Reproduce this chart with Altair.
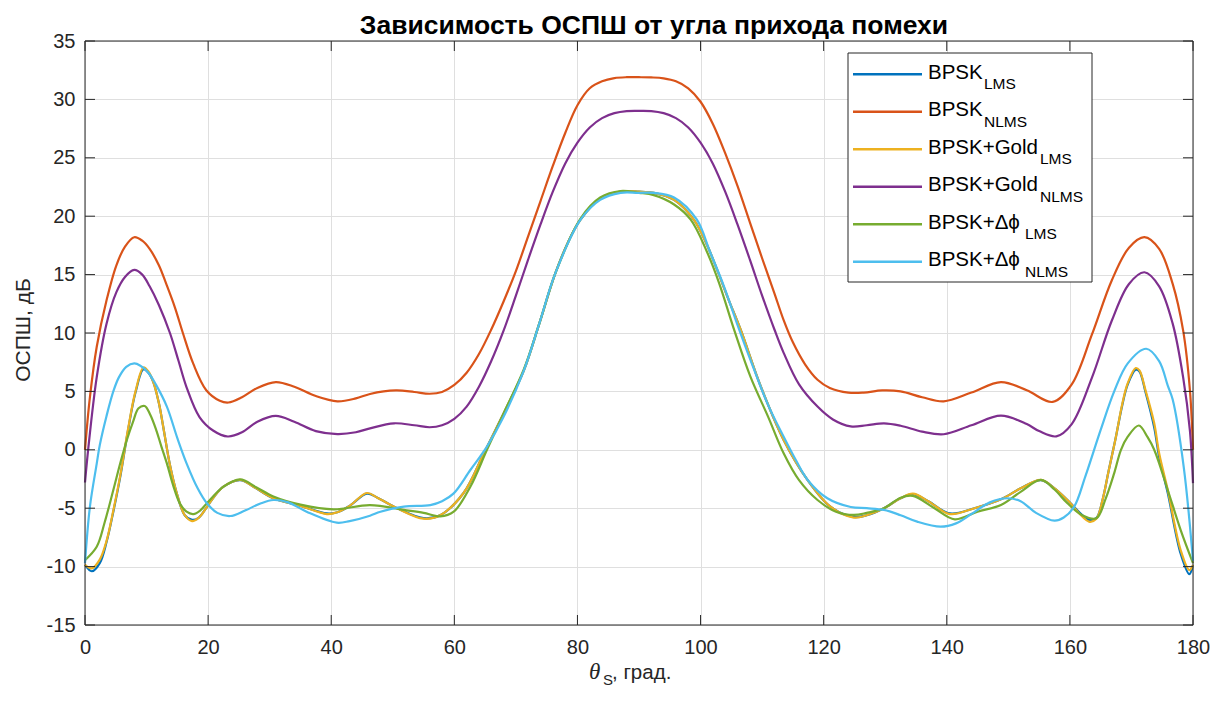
import altair as alt
import pandas as pd

FONT = "Liberation Sans"
W, H = 1108, 584

# ---------------- data ----------------
x_tick_values = list(range(0, 181, 20))
y_tick_values = list(range(-15, 36, 5))

theta_bpsk_nlms = [0, 0.8, 1.9, 3.5, 5.1, 6.5, 8, 9.3, 10.5, 12, 13.2, 14.6, 15.9, 17.6, 19.7, 21.9, 23.3, 25.5, 28, 31,
                   34, 37.5, 41, 44, 46.3, 50.5, 53.5, 56, 58, 60, 62, 64, 66, 68, 70, 72, 74, 76, 78, 80,
                   82, 84, 86, 88, 90, 92, 94, 96, 98, 100, 102, 104, 106, 108, 110, 112, 113.5, 115, 117, 119,
                   121, 124, 126.5, 129.5, 132.5, 136, 139.5, 144, 148.8, 153, 157.2, 160.3, 163.6, 166.8, 169.6,
                   172.1, 174.5, 176.7, 178.4, 179.5, 180]
snr_bpsk_nlms = [0, 4.5, 8.8, 12.8, 15.8, 17.4, 18.2, 17.9, 17.2, 15.8, 14.2, 12.2, 10.0, 7.35, 5.1, 4.2, 4.05, 4.5, 5.3, 5.8,
                 5.4, 4.6, 4.15, 4.4, 4.78, 5.08, 4.95, 4.8, 4.95, 5.55, 6.6, 8.2, 10.3, 12.7, 15.3, 18.3, 21.3, 24.3, 27.1, 29.5,
                 30.95, 31.55, 31.82, 31.9, 31.9, 31.88, 31.8, 31.55, 30.95, 29.8, 27.9, 25.4, 22.6, 19.5, 16.4, 13.4, 11.1, 9.2, 7.3, 6.0,
                 5.3, 4.9, 4.9, 5.08, 5.0, 4.5, 4.15, 4.9, 5.8, 5.1, 4.1, 5.6, 9.9, 14.5, 17.3,
                 18.2, 17.2, 14.2, 10.2, 5.1, 0]

theta_gold_nlms = [0, 0.55, 1.9, 3.5, 5.1, 6.5, 8, 9.3, 10.5, 12, 13.8, 15.2, 16.5, 18.6, 20.8, 23.2, 25.5, 28, 31, 34,
                   37.5, 41, 44, 46.3, 50.2, 53.5, 56, 58, 60, 62, 64, 66, 68, 70, 72, 74, 76, 78, 80, 82,
                   84, 86, 88, 90, 92, 94, 96, 98, 100, 102, 104, 106, 108, 110, 112, 113.5, 116, 119, 121.5, 124.4,
                   127, 129.8, 132.5, 136, 139.5, 144, 148.8, 153, 155, 157.8, 160.3, 163.6, 166.8, 169.6, 172.1,
                   174.5, 176.7, 178.4, 179.5, 180]
snr_gold_nlms = [-2.8, 0.2, 6.2, 10.8, 13.5, 14.8, 15.4, 15.0, 14.0, 12.4, 10.0, 7.6, 5.35, 2.8, 1.65, 1.14, 1.5, 2.4, 2.9, 2.4,
                 1.6, 1.35, 1.5, 1.84, 2.27, 2.1, 1.93, 2.1, 2.65, 3.7, 5.4, 7.6, 10.2, 13.2, 16.3, 19.3, 22.1, 24.5, 26.3, 27.6,
                 28.4, 28.82, 29.0, 29.02, 29.0, 28.82, 28.4, 27.6, 26.3, 24.5, 22.1, 19.3, 16.3, 13.2, 10.3, 8.3, 5.6, 3.7, 2.6, 2.0,
                 2.1, 2.27, 2.06, 1.55, 1.33, 2.1, 2.92, 2.2, 1.6, 1.15, 2.2, 6.2, 11.05, 14.2, 15.2,
                 14.0, 10.8, 6.2, 1.65, -2.85]

theta_gold_lms = [0, 1.1, 2.4, 3.5, 4.6, 5.8, 7.0, 8.2, 9.5, 10.3, 11.1, 12.0, 12.7, 13.8, 14.9, 16.2, 17.4, 18.5, 19.8, 21,
                  22.5, 25.2, 27.5, 30.6, 35, 39.3, 41, 43, 45.8, 47.5, 50.7, 55, 57.7, 61.5, 64.8, 68, 71.3, 73.8, 76.4, 78.5,
                  80.5, 83.7, 87, 90, 92.4, 95.7, 98.9, 101, 102.7, 104.6, 106.5, 109.8, 113.5, 117.4, 121.1, 124.9, 127, 129.8,
                  132.5, 134.5, 137, 140.5, 144.5, 148.8, 152, 155.3, 157.5, 159.6, 163.1, 164.3, 165.3, 166.3, 167.4, 168.5,
                  169.4, 170.7, 171.3, 172.3, 173.7, 174.5, 175.9, 178, 179.4, 180]
snr_gold_lms = [-9.86, -10.15, -9.4, -7.8, -5.2, -2.0, 1.8, 5.0, 7.05, 6.7, 5.8, 4.0, 2.0, -1.3, -3.7, -5.6, -6.1, -5.8, -4.9, -4.0,
                -3.16, -2.58, -3.2, -4.15, -4.8, -5.5, -5.35, -4.8, -3.7, -4.1, -5.0, -5.9, -5.6, -3.7, -0.3, 3.1, 6.8, 10.8, 15.1, 17.8,
                19.7, 21.5, 22.1, 22.1, 22.0, 21.4, 19.7, 17.6, 15.4, 12.8, 10.3, 5.4, 0.84, -2.6, -4.87, -5.8, -5.6, -5.0,
                -4.15, -3.75, -4.4, -5.5, -5.0, -4.24, -3.3, -2.58, -3.3, -4.3, -6.15, -5.9, -4.3, -1.8, 0.9, 3.9,
                5.7, 7.0, 6.8, 5.07, 2.27, -0.3, -3.44, -8.6, -10.3, -9.86]

theta_bpsk_lms = [0, 1.1, 2.4, 3.5, 4.6, 5.8, 7.0, 8.2, 9.5, 10.3, 11.1, 12.0, 12.7, 13.8, 14.9, 16.2, 17.4, 18.5, 19.8, 21,
                  22.5, 25.2, 27.5, 30.6, 35, 39.3, 41, 43, 45.8, 47.5, 50.7, 55, 57.7, 61.5, 64.8, 68, 71.3, 73.8, 76.4, 78.5,
                  80.5, 83.7, 87, 90, 92.4, 95.7, 98.9, 101, 102.7, 104.6, 106.5, 109.8, 113.5, 117.4, 121.1, 124.9, 127, 129.8,
                  132.5, 134.5, 137, 140.5, 144.5, 148.8, 152, 155.3, 157.5, 159.6, 163.1, 164.3, 165.3, 166.3, 167.4, 168.5,
                  169.4, 170.7, 171.3, 172.3, 173.7, 174.5, 175.9, 178, 179.4, 180]
snr_bpsk_lms = [-9.86, -10.4, -9.7, -7.9, -5.3, -2.1, 1.7, 4.9, 6.9, 6.6, 5.8, 4.0, 2.0, -1.3, -3.7, -5.6, -6.0, -5.8, -4.9, -4.0,
                -3.16, -2.6, -3.2, -4.15, -4.8, -5.45, -5.35, -4.8, -3.75, -4.1, -5.0, -5.85, -5.6, -3.7, -0.3, 3.1, 6.8, 10.8, 15.1, 17.8,
                19.7, 21.5, 22.1, 22.1, 22.0, 21.4, 19.7, 17.6, 15.4, 12.8, 10.3, 5.4, 0.84, -2.6, -4.87, -5.75, -5.6, -5.0,
                -4.15, -3.8, -4.4, -5.45, -5.0, -4.24, -3.3, -2.6, -3.3, -4.3, -6.0, -5.85, -4.3, -1.8, 0.9, 3.8,
                5.6, 6.85, 6.7, 4.9, 1.9, -0.6, -3.7, -8.9, -10.65, -9.86]

theta_dphi_lms = [0, 1.9, 3.2, 4.6, 5.8, 6.8, 7.8, 8.7, 9.7, 10.6, 11.6, 12.4, 13.3, 14.3, 15.4, 16.5, 17.6, 18.7, 19.8, 22.5,
                  25.2, 27.8, 30.6, 35, 40.4, 46.3, 51.8, 55, 57.7, 59.9, 62.6, 65.3, 68, 71.3, 73.8, 76.4, 80.5, 83.7, 87, 90,
                  92.4, 95.7, 98.4, 101, 103, 105.5, 108.1, 111, 113.5, 116, 119, 122, 124.9, 127, 129.8, 132.5, 134.5, 138,
                  141.3, 145, 148.8, 152, 155.3, 157.5, 159.6, 162, 164.3, 165.8, 167.2, 168.3, 169.4, 171.2, 172.6, 173.7,
                  175.9, 178, 180]
snr_dphi_lms = [-9.45, -8.3, -6.2, -3.44, -1.0, 0.84, 2.4, 3.55, 3.75, 3.0, 1.65, 0.3, -1.16, -3.0, -4.58, -5.3, -5.5, -5.2, -4.58, -3.16,
                -2.53, -3.2, -4.0, -4.7, -5.1, -4.73, -5.15, -5.4, -5.7, -5.3, -3.16, 0.0, 3.1, 6.9, 10.8, 15.1, 19.8, 21.6, 22.15, 22.0,
                21.8, 21.0, 19.7, 17.0, 14.3, 10.2, 6.26, 2.8, -0.3, -2.6, -4.3, -5.3, -5.58, -5.4, -5.0, -4.1, -3.95, -5.0,
                -5.95, -5.3, -4.73, -3.6, -2.58, -3.4, -4.58, -5.6, -5.87, -4.2, -2.0, 0.0, 1.12, 2.08, 1.1, 0.0,
                -3.44, -6.87, -9.7]

theta_dphi_nlms = [0, 0.8, 1.9, 2.4, 3.5, 4.6, 5.5, 6.7, 8.0, 9.0, 10.3, 11.5, 13.3, 15.0, 16.5, 18.3, 19.8, 21.5, 23.6, 26,
                   28.5, 30.6, 33, 36, 40.9, 43, 46.3, 48, 51.8, 56.1, 58, 59.9, 62.6, 65.3, 68, 71.3, 73.8, 76.4, 80.5, 83.7,
                   87, 90, 92.4, 95.7, 99.4, 101.5, 103.8, 106, 108.1, 111, 113.5, 115.5, 117.4, 120.6, 124.4, 127, 129.8, 132.5,
                   135.2, 139, 141.5, 144, 147, 149.9, 152, 154.5, 157.5, 159, 160.7, 162.5, 165, 167.2, 169.4, 172.4, 174.5,
                   175.9, 176.7, 178.5, 180]
snr_dphi_nlms = [-9.7, -4.87, -1.2, 0.4, 2.9, 5.0, 6.2, 7.1, 7.4, 7.2, 6.6, 5.6, 3.7, 1.0, -1.16, -3.3, -4.58, -5.4, -5.67, -5.2,
                 -4.6, -4.3, -4.5, -5.3, -6.24, -6.1, -5.64, -5.3, -4.87, -4.73, -4.4, -3.73, -1.73, 0.27, 2.83, 6.8, 10.8, 15.1, 19.7, 21.4,
                 22.0, 22.0, 22.0, 21.6, 19.7, 17.0, 14.0, 10.7, 7.7, 3.8, 1.12, -0.9, -2.58, -4.15, -4.9, -5.0, -5.15, -5.6,
                 -6.15, -6.58, -6.3, -5.5, -4.5, -4.15, -4.4, -5.4, -6.07, -5.8, -4.87, -2.3, 1.7, 5.0, 7.4, 8.65, 7.6,
                 5.5, 4.3, -1.5, -9.5]

series_colors = ["#0072BD", "#D95319", "#EDB120", "#7E2F8E", "#77AC30", "#4DBEEE"]
legend_main = ["BPSK", "BPSK", "BPSK+Gold", "BPSK+Gold", "BPSK+Δϕ", "BPSK+Δϕ"]
legend_sub = ["LMS", "NLMS", "LMS", "NLMS", "LMS", "NLMS"]

title_text = "Зависимость ОСПШ от угла прихода помехи"
y_title_text = "ОСПШ, дБ"
x_title_text = ", град."

series = [
    (theta_bpsk_lms, snr_bpsk_lms),
    (theta_bpsk_nlms, snr_bpsk_nlms),
    (theta_gold_lms, snr_gold_lms),
    (theta_gold_nlms, snr_gold_nlms),
    (theta_dphi_lms, snr_dphi_lms),
    (theta_dphi_nlms, snr_dphi_nlms),
]

# ---------------- chart ----------------
x_scale = alt.Scale(domain=[0, 180], nice=False, zero=False)
y_scale = alt.Scale(domain=[-15, 35], nice=False, zero=False)

plain_label = "'' + datum.value"
x_axis = alt.Axis(values=x_tick_values, title=None, grid=True, gridColor="#dfdfdf", gridWidth=1,
                  domain=False, ticks=False, labelFont=FONT, labelFontSize=20, labelColor="#262626",
                  labelPadding=12, labelFlush=False, labelOverlap=False, labelBound=False,
                  labelExpr=plain_label)
y_axis = alt.Axis(values=y_tick_values, title=None, grid=True, gridColor="#dfdfdf", gridWidth=1,
                  domain=False, ticks=False, labelFont=FONT, labelFontSize=20, labelColor="#262626",
                  labelPadding=10, labelFlush=False, labelOverlap=False, labelBound=False,
                  labelExpr=plain_label)

dummy = pd.DataFrame({"k": [0]})
layers = []

for (th, val), col in zip(series, series_colors):
    df = pd.DataFrame({"theta": th, "snr": val})
    layers.append(
        alt.Chart(df).mark_line(color=col, strokeWidth=2.2, interpolate="catmull-rom").encode(
            x=alt.X("theta:Q", scale=x_scale, axis=x_axis),
            y=alt.Y("snr:Q", scale=y_scale, axis=y_axis),
        )
    )

xt = pd.DataFrame({"v": x_tick_values})
yt = pd.DataFrame({"v": y_tick_values})
TL = 10
tick_style = dict(color="#262626", strokeWidth=1)
layers.append(alt.Chart(yt).mark_rule(**tick_style).encode(
    y=alt.Y("v:Q", scale=y_scale, axis=y_axis), x=alt.value(0), x2=alt.value(TL)))
layers.append(alt.Chart(yt).mark_rule(**tick_style).encode(
    y=alt.Y("v:Q", scale=y_scale, axis=y_axis), x=alt.value(W - TL), x2=alt.value(W)))
layers.append(alt.Chart(xt).mark_rule(**tick_style).encode(
    x=alt.X("v:Q", scale=x_scale, axis=x_axis), y=alt.value(H), y2=alt.value(H - TL)))
layers.append(alt.Chart(xt).mark_rule(**tick_style).encode(
    x=alt.X("v:Q", scale=x_scale, axis=x_axis), y=alt.value(0), y2=alt.value(TL)))

# axes box
layers.append(alt.Chart(dummy).mark_rect(fillOpacity=0, stroke="#262626", strokeWidth=1).encode(
    x=alt.value(0), x2=alt.value(W), y=alt.value(0), y2=alt.value(H)))

# legend
LX0, LX1, LY0, LY1 = 763, 1007, 12, 241
layers.append(alt.Chart(dummy).mark_rect(fill="white", stroke="#262626", strokeWidth=1).encode(
    x=alt.value(LX0), x2=alt.value(LX1), y=alt.value(LY0), y2=alt.value(LY1)))
sub_x = [899, 899, 955, 955, 940, 940]
for i, (m, s, col) in enumerate(zip(legend_main, legend_sub, series_colors)):
    ly = 33.3 + 37.5 * i
    layers.append(alt.Chart(dummy).mark_rule(color=col, strokeWidth=2.5).encode(
        x=alt.value(768), x2=alt.value(837), y=alt.value(ly)))
    layers.append(alt.Chart(dummy).mark_text(text=m, font=FONT, fontSize=20.5, color="#000000",
                                             align="left", baseline="alphabetic").encode(
        x=alt.value(843), y=alt.value(ly + 4.5)))
    layers.append(alt.Chart(dummy).mark_text(text=s, font=FONT, fontSize=15.5, color="#000000",
                                             align="left", baseline="alphabetic").encode(
        x=alt.value(sub_x[i]), y=alt.value(ly + 15)))

# titles
layers.append(alt.Chart(dummy).mark_text(text=title_text, font=FONT, fontSize=26.5, fontWeight="bold",
                                         color="#000000", align="center", baseline="alphabetic").encode(
    x=alt.value(569), y=alt.value(-7)))
layers.append(alt.Chart(dummy).mark_text(text=y_title_text, font=FONT, fontSize=21, angle=270,
                                         color="#262626", align="center", baseline="middle").encode(
    x=alt.value(-61), y=alt.value(289)))
layers.append(alt.Chart(dummy).mark_text(text="θ", font="Liberation Serif", fontStyle="italic", fontSize=23,
                                         color="#262626", align="left", baseline="alphabetic").encode(
    x=alt.value(504), y=alt.value(638)))
layers.append(alt.Chart(dummy).mark_text(text="S", font=FONT, fontSize=15, color="#262626",
                                         align="left", baseline="alphabetic").encode(
    x=alt.value(518), y=alt.value(644)))
layers.append(alt.Chart(dummy).mark_text(text=x_title_text, font=FONT, fontSize=20.5, color="#262626",
                                         align="left", baseline="alphabetic").encode(
    x=alt.value(527), y=alt.value(638)))

chart = alt.layer(*layers).properties(
    width=W, height=H,
    padding={"left": 77, "top": 33, "right": 22, "bottom": 63},
    autosize=alt.AutoSizeParams(type="none"),
    background="white",
).configure_view(stroke=None)

chart.save("out.html", embed_options={"renderer": "svg", "actions": False})
